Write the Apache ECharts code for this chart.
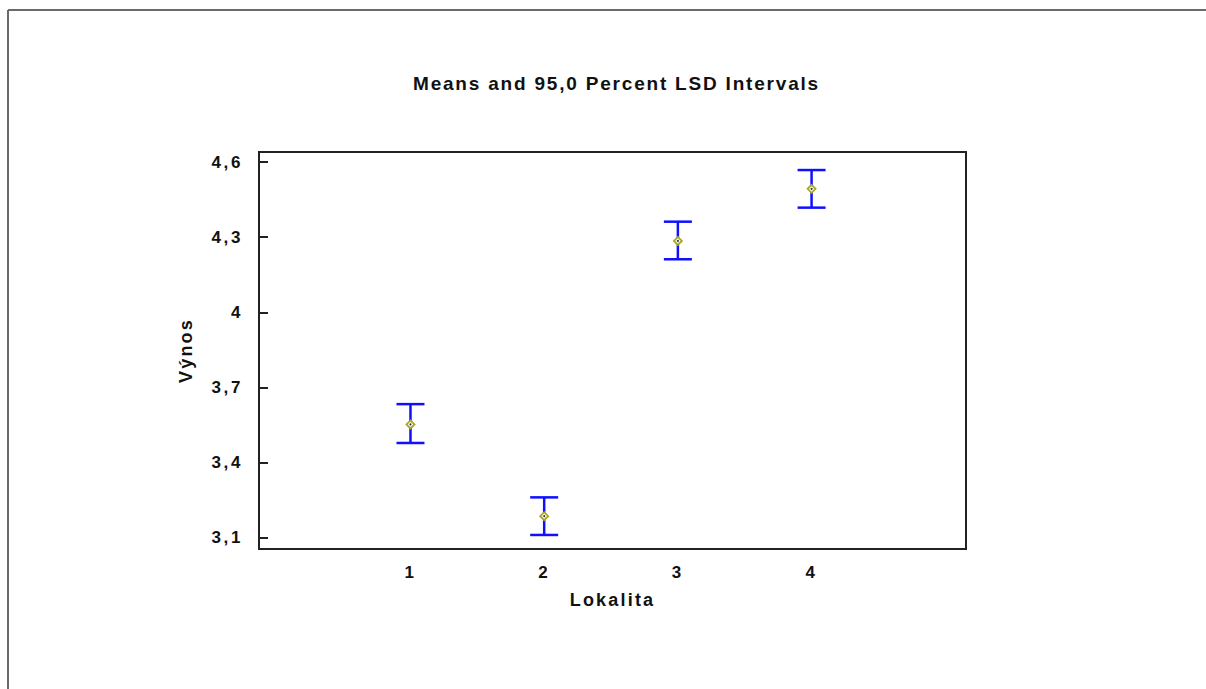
<!DOCTYPE html>
<html>
<head>
<meta charset="utf-8">
<script src="https://cdn.jsdelivr.net/npm/echarts@6/dist/echarts.min.js"></script>
<style>
html,body{margin:0;padding:0;background:#fff;}
#chart{width:1206px;height:689px;}
#chart text[style*="19px"]{letter-spacing:1.8px;}
#chart text[style*="17px"]{letter-spacing:2.6px;}
#chart text[style*="18px"]{letter-spacing:2.2px;}
</style>
</head>
<body>
<div id="chart"></div>
<script>
// Data
var categories = [1, 2, 3, 4];
var means = [3.553, 3.187, 4.285, 4.493];
var lower = [3.479, 3.112, 4.212, 4.418];
var upper = [3.634, 3.262, 4.362, 4.568];
var yTicks = [3.1, 3.4, 3.7, 4.0, 4.3, 4.6];
var titleText = 'Means and 95,0 Percent LSD Intervals';
var xName = 'Lokalita';
var yName = 'Výnos';

var chart = echarts.init(document.getElementById('chart'), null, {renderer: 'svg'});
var barData = categories.map(function (c, i) { return [c, lower[i], upper[i], means[i]]; });
var FONT = 'Liberation Sans';

var option = {
  animation: false,
  backgroundColor: '#fff',
  title: {
    text: titleText,
    left: 408,
    top: 69,
    textStyle: {fontFamily: FONT, fontWeight: 'bold', fontSize: 19, color: '#111'}
  },
  grid: {left: 259, right: 240, top: 152, bottom: 140, show: true, borderColor: '#222', borderWidth: 2, backgroundColor: 'transparent'},
  xAxis: {
    type: 'value', min: -0.133, max: 5.155,
    name: xName, nameLocation: 'middle', nameGap: 42,
    nameTextStyle: {fontFamily: FONT, fontWeight: 'bold', fontSize: 18, color: '#111'},
    axisLine: {show: true, onZero: false, lineStyle: {color: '#222', width: 2}},
    axisTick: {show: false},
    splitLine: {show: false},
    axisLabel: {customValues: categories, margin: 15, fontFamily: FONT, fontWeight: 'bold', fontSize: 17, color: '#111',
      formatter: function (v) { return String(v); }}
  },
  yAxis: {
    type: 'value', min: 3.056, max: 4.64,
    name: yName, nameLocation: 'middle', nameGap: 64, nameRotate: 90,
    nameTextStyle: {fontFamily: FONT, fontWeight: 'bold', fontSize: 18, color: '#111'},
    axisLine: {show: true, onZero: false, lineStyle: {color: '#222', width: 2}},
    axisTick: {show: true, inside: true, length: 9, customValues: yTicks, lineStyle: {color: '#222', width: 2}},
    splitLine: {show: false},
    axisLabel: {customValues: yTicks, margin: 16, fontFamily: FONT, fontWeight: 'bold', fontSize: 17, color: '#111',
      formatter: function (v) { return (Math.round(v * 10) / 10).toString().replace('.', ','); }}
  },
  series: [{
    type: 'custom',
    data: barData,
    renderItem: function (params, api) {
      var x = api.value(0);
      var pLo = api.coord([x, api.value(1)]);
      var pHi = api.coord([x, api.value(2)]);
      var pM = api.coord([x, api.value(3)]);
      var hw = 14;
      var blue = '#1010ff';
      var ls = {stroke: blue, lineWidth: 2.5};
      var d = 4;
      return {
        type: 'group',
        children: [
          {type: 'line', shape: {x1: pLo[0], y1: pLo[1], x2: pHi[0], y2: pHi[1]}, style: ls},
          {type: 'line', shape: {x1: pHi[0] - hw, y1: pHi[1], x2: pHi[0] + hw, y2: pHi[1]}, style: ls},
          {type: 'line', shape: {x1: pLo[0] - hw, y1: pLo[1], x2: pLo[0] + hw, y2: pLo[1]}, style: ls},
          {type: 'polygon', shape: {points: [[pM[0], pM[1] - d], [pM[0] + d, pM[1]], [pM[0], pM[1] + d], [pM[0] - d, pM[1]]]},
            style: {fill: '#fff', stroke: '#a8a820', lineWidth: 1.8}},
          {type: 'circle', shape: {cx: pM[0], cy: pM[1], r: 1}, style: {fill: '#333'}}
        ]
      };
    }
  }],
  graphic: [
    {type: 'line', shape: {x1: 8, y1: 10, x2: 1206, y2: 10}, style: {stroke: '#6a6a6a', lineWidth: 2}},
    {type: 'line', shape: {x1: 8, y1: 10, x2: 8, y2: 689}, style: {stroke: '#6a6a6a', lineWidth: 2}}
  ]
};
chart.setOption(option);
</script>
</body>
</html>
